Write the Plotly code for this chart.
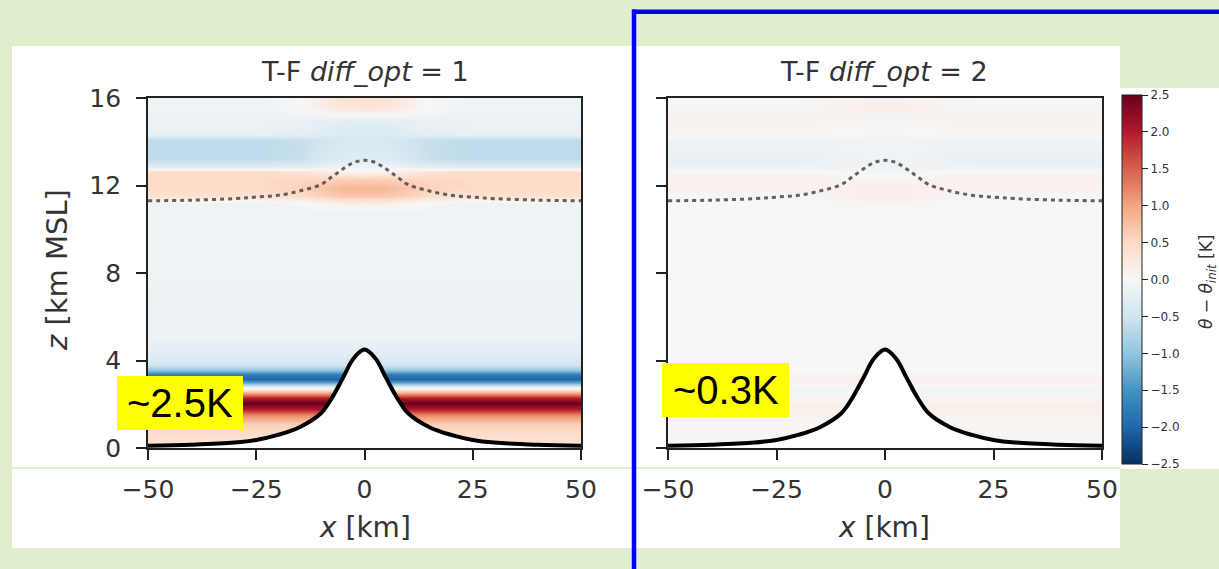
import numpy as np
import plotly.graph_objects as go

W, H = 1219, 569

# ---------------- data ----------------
# vertical levels (km MSL) at which the anomaly profiles are read
z_levels = [0.0, 0.6, 1.1, 1.5, 1.8, 2.05, 2.3, 2.55, 2.75, 2.95, 3.15, 3.35, 3.55, 3.8, 4.2,
            5.0, 8.0, 10.8, 11.2, 11.5, 11.9, 12.3, 12.6, 12.85, 13.2, 14.1, 14.35, 15.0, 15.5, 16.0]

# diff_opt = 1 : far-field profile and profile above the mountain crest (K)
theta_far_opt1 = [0.35, 0.45, 0.6, 1.2, 2.0, 2.5, 2.0, 0.8, 0.0, -1.2, -2.0, -1.8, -1.0, -0.5, -0.3,
                  -0.15, -0.12, -0.12, -0.1, 0.4, 0.5, 0.5, 0.45, -0.3, -0.65, -0.65, -0.2, -0.15, -0.12, -0.12]
theta_mid_opt1 = [0.35, 0.45, 0.6, 1.2, 2.0, 2.5, 2.0, 0.8, 0.0, -1.2, -2.0, -1.8, -1.0, -0.5, -0.3,
                  -0.15, -0.12, -0.1, 0.2, 0.7, 0.85, 0.6, 0.1, -0.1, -0.3, -0.4, -0.35, -0.25, 0.3, 0.4]

# diff_opt = 2 : much weaker anomalies (K)
theta_far_opt2 = [0.0, 0.05, 0.05, 0.1, 0.15, 0.12, 0.05, -0.05, -0.1, 0.1, 0.12, 0.05, 0.0, -0.02, -0.02,
                  -0.02, -0.02, -0.02, 0.0, 0.05, 0.1, 0.12, 0.05, -0.15, -0.2, -0.1, 0.05, 0.1, 0.05, 0.0]
theta_mid_opt2 = [0.0, 0.05, 0.05, 0.1, 0.15, 0.12, 0.05, -0.05, -0.1, 0.1, 0.12, 0.05, 0.0, -0.02, -0.02,
                  -0.02, -0.02, -0.02, 0.05, 0.15, 0.15, 0.05, -0.05, -0.1, -0.12, -0.1, -0.05, 0.05, 0.15, 0.1]

# horizontal columns (km) and how strongly each column shows the crest pattern
x_cols = [-50, -25, -15, -10, -5, 0, 5, 10, 15, 25, 50]
mid_weight = [0, 0, 0.2, 0.6, 0.95, 1, 0.95, 0.6, 0.2, 0, 0]

# terrain profile and dotted tropopause line (km)
terrain_x = [-50, -40, -30, -25, -20, -15, -10, -7.5, -5, -2.5, 0, 2.5, 5, 7.5, 10, 15, 20, 25, 30, 40, 50]
terrain_z = [0.1, 0.15, 0.25, 0.37, 0.6, 0.95, 1.6, 2.3, 3.2, 4.1, 4.5, 4.1, 3.2, 2.3, 1.6, 0.95, 0.6, 0.37, 0.25, 0.15, 0.1]
tropo_z = [11.3, 11.33, 11.4, 11.47, 11.55, 11.75, 12.05, 12.4, 12.75, 13.05, 13.15, 13.05, 12.75, 12.4, 12.05,
           11.75, 11.55, 11.47, 11.4, 11.33, 11.3]

x_ticks = [-50, -25, 0, 25, 50]
z_ticks = [0, 4, 8, 12, 16]
cbar_ticks = [-2.5, -2.0, -1.5, -1.0, -0.5, 0.0, 0.5, 1.0, 1.5, 2.0, 2.5]
cbar_text = ["\u22122.5", "\u22122.0", "\u22121.5", "\u22121.0", "\u22120.5", "0.0", "0.5", "1.0", "1.5", "2.0", "2.5"]
panel_titles = ["T-F <i>diff_opt</i> = 1", "T-F <i>diff_opt</i> = 2"]
callouts = ["~2.5K", "~0.3K"]

rdbu_r = ["#053061", "#2166ac", "#4393c3", "#92c5de", "#d1e5f0", "#f7f7f7",
          "#fddbc7", "#f4a582", "#d6604d", "#b2182b", "#67001f"]
colorscale = [[i / 10, c] for i, c in enumerate(rdbu_r)]

GREEN = "rgb(223,239,206)"
FONT = "DejaVu Sans"
TXT = "#333"


def px(x):
    return x / W


def py(y):
    return 1 - y / H


def field(far, mid):
    w = np.array(mid_weight)[:, None]
    f = (1 - w) * np.array(far)[None, :] + w * np.array(mid)[None, :]
    return f.T  # (nz, nx)


fig = go.Figure()

panels = [("x", "y", theta_far_opt1, theta_mid_opt1), ("x2", "y2", theta_far_opt2, theta_mid_opt2)]
for xa, ya, far, mid in panels:
    fig.add_trace(go.Heatmap(x=x_cols, y=z_levels, z=field(far, mid), coloraxis="coloraxis",
                             zsmooth="best", xaxis=xa, yaxis=ya, hoverinfo="skip"))
    fig.add_trace(go.Scatter(x=terrain_x, y=terrain_z, mode="lines", line=dict(color="black", width=4, shape="spline"),
                             fill="tozeroy", fillcolor="white", xaxis=xa, yaxis=ya, showlegend=False, hoverinfo="skip"))
    fig.add_trace(go.Scatter(x=terrain_x, y=tropo_z, mode="lines",
                             line=dict(color="rgba(70,70,70,0.85)", width=3, dash="4px,4px", shape="spline"),
                             xaxis=xa, yaxis=ya, showlegend=False, hoverinfo="skip"))

ax_common = dict(showline=True, mirror=True, linecolor="#222", linewidth=1.8, ticks="outside", ticklen=10,
                 tickwidth=1.8, tickcolor="#222", showgrid=False, zeroline=False, automargin=False,
                 tickfont=dict(family=FONT, size=25, color=TXT))
y0, y1 = py(448), py(98)
fig.update_layout(
    width=W, height=H, margin=dict(l=0, r=0, t=0, b=0, pad=0), autosize=False,
    paper_bgcolor=GREEN, plot_bgcolor="white", showlegend=False,
    xaxis=dict(domain=[px(148), px(581)], range=[-50, 50], tickvals=x_ticks, anchor="y",
               ticklabelstandoff=8, **ax_common),
    yaxis=dict(domain=[y0, y1], range=[0, 16], tickvals=z_ticks, anchor="x", ticklabelstandoff=10, **ax_common),
    xaxis2=dict(domain=[px(668), px(1102)], range=[-50, 50], tickvals=x_ticks, anchor="y2",
                ticklabelstandoff=8, **ax_common),
    yaxis2=dict(domain=[y0, y1], range=[0, 16], tickvals=z_ticks, anchor="x2", showticklabels=False, **ax_common),
    coloraxis=dict(colorscale=colorscale, cmin=-2.5, cmax=2.5,
                   colorbar=dict(x=px(1122), xanchor="left", xpad=0, ypad=0,
                                 y=py((95 + 464) / 2), yanchor="middle", len=369 / H, lenmode="fraction",
                                 thickness=20, thicknessmode="pixels", outlinewidth=1, outlinecolor="#222",
                                 ticks="outside", ticklen=6, tickcolor="#222", tickvals=cbar_ticks, ticktext=cbar_text,
                                 tickfont=dict(family=FONT, size=12, color=TXT))),
)

BLUE = "#0000ff"
shapes = [
    dict(type="rect", xref="paper", yref="paper", x0=px(12), x1=px(1120), y0=py(548), y1=py(46),
         fillcolor="white", line=dict(width=0), layer="below"),
    dict(type="rect", xref="paper", yref="paper", x0=px(1120), x1=1, y0=py(469), y1=py(88),
         fillcolor="white", line=dict(width=0), layer="below"),
    dict(type="line", xref="paper", yref="paper", x0=px(12), x1=px(1120), y0=py(468), y1=py(468),
         line=dict(color="rgb(222,239,205)", width=2), layer="below"),
    dict(type="rect", xref="paper", yref="paper", x0=px(117), x1=px(243), y0=py(430), y1=py(376),
         fillcolor="#ffff00", line=dict(width=0), layer="above"),
    dict(type="rect", xref="paper", yref="paper", x0=px(662), x1=px(789), y0=py(417), y1=py(363),
         fillcolor="#ffff00", line=dict(width=0), layer="above"),
    dict(type="line", xref="paper", yref="paper", x0=px(632), x1=1, y0=py(11.7), y1=py(11.7),
         line=dict(color=BLUE, width=4.5), layer="above"),
    dict(type="line", xref="paper", yref="paper", x0=px(634), x1=px(634), y0=0, y1=py(9.5),
         line=dict(color=BLUE, width=4.5), layer="above"),
]
fig.update_layout(shapes=shapes)

ann = []
for cx, t in zip([365, 884], panel_titles):
    ann.append(dict(x=px(cx), y=py(72), text=t, showarrow=False, xref="paper", yref="paper",
                    xanchor="center", yanchor="middle", font=dict(family=FONT, size=27, color=TXT)))
for cx in [365, 884]:
    ann.append(dict(x=px(cx), y=py(527), text="<i>x</i> [km]", showarrow=False, xref="paper", yref="paper",
                    xanchor="center", yanchor="middle", font=dict(family=FONT, size=28, color=TXT)))
ann.append(dict(x=px(57), y=py(270), text="<i>z</i> [km MSL]", textangle=-90, showarrow=False, xref="paper",
                yref="paper", xanchor="center", yanchor="middle", font=dict(family=FONT, size=29, color=TXT)))
ann.append(dict(x=px(1207), y=py(282), text="<i>θ</i> − <i>θ</i><sub><i>init</i></sub> [K]", textangle=-90,
                showarrow=False, xref="paper", yref="paper", xanchor="center", yanchor="middle",
                font=dict(family=FONT, size=17, color=TXT)))
for (cx, cy), t in zip([(180, 403), (725.5, 390)], callouts):
    ann.append(dict(x=px(cx), y=py(cy), text=t, showarrow=False, xref="paper", yref="paper",
                    xanchor="center", yanchor="middle", font=dict(family="Liberation Sans", size=40, color="black")))
fig.update_layout(annotations=ann)

fig.write_html("out.html", config={"displayModeBar": False},
               post_script="document.body.style.margin='0px';document.body.style.overflow='hidden';")
